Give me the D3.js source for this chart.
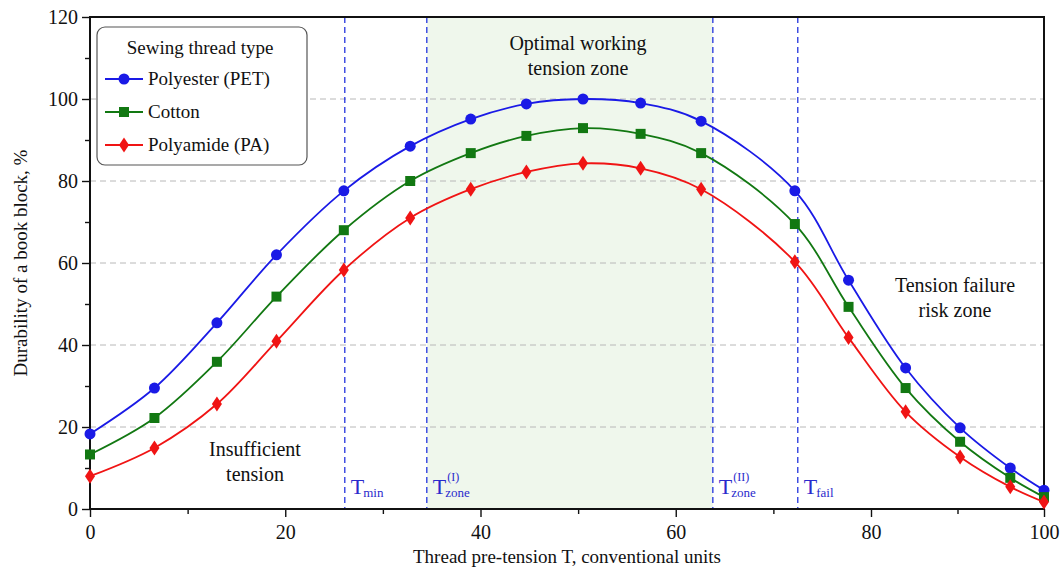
<!DOCTYPE html>
<html>
<head>
<meta charset="utf-8">
<script src="https://cdn.jsdelivr.net/npm/d3@7"></script>
<style>
  body { margin: 0; background: #fff; }
  svg text { font-family: "Liberation Serif", "Times New Roman", serif; }
</style>
</head>
<body>
<div id="chart"></div>
<script>
// tension values (x) and durability per thread type
const tension = [0, 6.6, 13, 19.1, 26, 32.8, 39, 44.7, 50.5, 56.4, 62.6, 72.2, 77.7, 84, 90.3, 96.1, 100];
const polyester = [18.3, 29.5, 45.4, 62.0, 77.6, 88.5, 95.1, 98.8, 100, 99.0, 94.6, 77.6, 55.8, 34.4, 19.8, 10.0, 4.6];
const cotton = [13.3, 22.2, 35.9, 51.8, 68.0, 80.0, 86.8, 91.0, 92.9, 91.5, 86.8, 69.5, 49.3, 29.5, 16.4, 7.6, 2.9];
const polyamide = [8.0, 14.9, 25.6, 40.9, 58.3, 71.0, 78.0, 82.2, 84.3, 83.1, 78.0, 60.3, 41.8, 23.7, 12.7, 5.4, 1.7];

const seriesNames = ["Polyester (PET)", "Cotton", "Polyamide (PA)"];
const xTicks = [0, 20, 40, 60, 80, 100];
const yTicks = [0, 20, 40, 60, 80, 100, 120];

// characteristic tension levels
const tMin = 26.1, tZone1 = 34.5, tZone2 = 63.8, tFail = 72.5;

const W = 1061, H = 572;
const margin = { top: 17, right: 17, bottom: 63, left: 90 };
const x0 = margin.left, x1 = W - margin.right;
const y0 = H - margin.bottom, y1 = margin.top;

const svg = d3.select("#chart").append("svg")
    .attr("width", W).attr("height", H);

// axis on the original is stretched a bit after 80
const x = d3.scaleLinear().domain([0, 80, 100]).range([x0, 871, x1]);
const y = d3.scaleLinear().domain([0, 120]).range([y0, y1]);

// optimal zone
svg.append("rect")
    .attr("x", x(tZone1)).attr("y", y1)
    .attr("width", x(tZone2) - x(tZone1)).attr("height", y0 - y1)
    .attr("fill", "#eff7ec");

// grid
svg.append("g").selectAll("line")
    .data([20, 40, 60, 80, 100])
    .join("line")
    .attr("x1", x0).attr("x2", x1)
    .attr("y1", d => y(d)).attr("y2", d => y(d))
    .attr("stroke", "#b8b8b8").attr("stroke-width", 1)
    .attr("stroke-dasharray", "6,4");

// vertical markers
svg.append("g").selectAll("line")
    .data([tMin, tZone1, tZone2, tFail])
    .join("line")
    .attr("x1", d => x(d)).attr("x2", d => x(d))
    .attr("y1", y1).attr("y2", y0)
    .attr("stroke", "#2233dd").attr("stroke-width", 1.3)
    .attr("stroke-dasharray", "6,4");

// axes
svg.append("g")
    .attr("transform", `translate(0,${y0})`)
    .call(d3.axisBottom(x).tickValues(xTicks).tickSize(8).tickPadding(8).tickFormat(d3.format("d")));
svg.append("g")
    .attr("transform", `translate(0,${y0})`)
    .call(d3.axisBottom(x).tickValues([10, 30, 50, 70, 90]).tickSize(5).tickFormat(""));

svg.append("g")
    .attr("transform", `translate(${x0},0)`)
    .call(d3.axisLeft(y).tickValues(yTicks).tickSize(8).tickPadding(4));
svg.append("g")
    .attr("transform", `translate(${x0},0)`)
    .call(d3.axisLeft(y).tickValues([10, 30, 50, 70, 90, 110]).tickSize(5).tickFormat(""));

svg.selectAll(".tick line").attr("stroke", "#111").attr("stroke-width", 1.4);
svg.selectAll(".domain").remove();
svg.selectAll(".tick text")
    .style("font-family", '"Liberation Serif", serif')
    .style("font-size", "20px")
    .attr("fill", "#111");

// frame
svg.append("rect")
    .attr("x", x0).attr("y", y1)
    .attr("width", x1 - x0).attr("height", y0 - y1)
    .attr("fill", "none").attr("stroke", "#111").attr("stroke-width", 2);

// axis titles
svg.append("text")
    .attr("x", (x0 + x1) / 2).attr("y", 563)
    .attr("text-anchor", "middle")
    .style("font-size", "19px").attr("fill", "#111")
    .text("Thread pre-tension T, conventional units");
svg.append("text")
    .attr("transform", `translate(27,${(y0 + y1) / 2}) rotate(-90)`)
    .attr("text-anchor", "middle")
    .style("font-size", "19px").attr("fill", "#111")
    .text("Durability of a book block, %");

// zone labels
const notes = [
    { lines: ["Insufficient", "tension"], cx: 255, cy: 456 },
    { lines: ["Optimal working", "tension zone"], cx: 578, cy: 50 },
    { lines: ["Tension failure", "risk zone"], cx: 955, cy: 292 },
];
notes.forEach(n => {
    n.lines.forEach((l, i) => {
        svg.append("text")
            .attr("x", n.cx).attr("y", n.cy + i * 25)
            .attr("text-anchor", "middle")
            .style("font-size", "20px").attr("fill", "#111")
            .text(l);
    });
});

// T labels: one text element each, sub/sup as tspans
const tLabels = [
    { v: tMin, sub: "min", sup: "" },
    { v: tZone1, sub: "zone", sup: "(I)" },
    { v: tZone2, sub: "zone", sup: "(II)" },
    { v: tFail, sub: "fail", sup: "" },
];
tLabels.forEach(t => {
    const bx = x(t.v) + 6, by = 494;
    const lbl = svg.append("text")
        .attr("x", bx).attr("y", by)
        .attr("fill", "#2a2acc");
    const T = lbl.append("tspan").style("font-size", "22px").text("T");
    const tw = T.node().getComputedTextLength();
    lbl.append("tspan")
        .attr("dx", -1).attr("dy", 3)
        .style("font-size", "13px")
        .text(t.sub);
    if (t.sup) {
        lbl.append("tspan")
            .attr("x", bx + tw + 1).attr("dy", -16)
            .style("font-size", "12px")
            .text(t.sup);
    }
});

// series
const series = [
    { name: seriesNames[0], values: polyester, color: "#1a1ae6", shape: "circle" },
    { name: seriesNames[1], values: cotton, color: "#127812", shape: "square" },
    { name: seriesNames[2], values: polyamide, color: "#f01414", shape: "diamond" },
];

const line = d3.line()
    .x((d, i) => x(tension[i]))
    .y(d => y(d))
    .curve(d3.curveCatmullRom.alpha(0.5));

const markerPath = shape => {
    if (shape === "circle") return d3.symbol(d3.symbolCircle, 95)();
    if (shape === "square") return "M-5,-5H5V5H-5Z";
    return "M0,-7.5L5,0L0,7.5L-5,0Z";
};

series.forEach(s => {
    svg.append("path")
        .datum(s.values)
        .attr("d", line)
        .attr("fill", "none")
        .attr("stroke", s.color)
        .attr("stroke-width", 1.8);
    svg.append("g").selectAll("path")
        .data(s.values)
        .join("path")
        .attr("transform", (d, i) => `translate(${x(tension[i])},${y(d)})`)
        .attr("d", markerPath(s.shape))
        .attr("fill", s.color);
});

// legend
const legend = svg.append("g");
legend.append("rect")
    .attr("x", 97).attr("y", 27)
    .attr("width", 210).attr("height", 138)
    .attr("rx", 8)
    .attr("fill", "#fff").attr("stroke", "#555").attr("stroke-width", 1.2);
legend.append("text")
    .attr("x", 200).attr("y", 54)
    .attr("text-anchor", "middle")
    .style("font-size", "19px").attr("fill", "#111")
    .text("Sewing thread type");
series.forEach((s, i) => {
    const ly = 79 + i * 33;
    legend.append("line")
        .attr("x1", 105).attr("x2", 143)
        .attr("y1", ly).attr("y2", ly)
        .attr("stroke", s.color).attr("stroke-width", 2);
    legend.append("path")
        .attr("transform", `translate(124,${ly})`)
        .attr("d", markerPath(s.shape))
        .attr("fill", s.color);
    legend.append("text")
        .attr("x", 148).attr("y", ly + 6)
        .style("font-size", "19px").attr("fill", "#111")
        .text(s.name);
});
</script>
</body>
</html>
